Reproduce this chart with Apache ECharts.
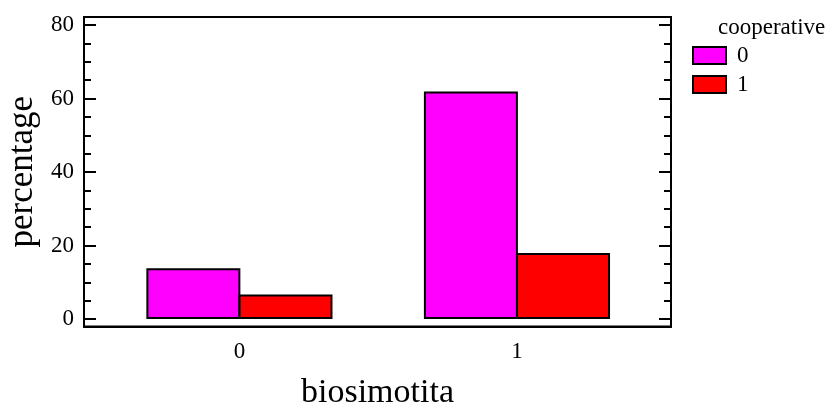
<!DOCTYPE html>
<html>
<head>
<meta charset="utf-8">
<script src="https://cdn.jsdelivr.net/npm/echarts@6/dist/echarts.min.js"></script>
<style>
  html, body { margin: 0; padding: 0; background: #fff; }
  #chart { width: 829px; height: 407px; }
</style>
</head>
<body>
<div id="chart"></div>
<script>
// biosimotita groups on the x axis
const categories = [0, 1];
const groupNames = ['0', '1'];
// percentage per cooperative level
const coop0 = [13.8, 61.9];
const coop1 = [6.7, 18.0];
const yMajor = [0, 20, 40, 60, 80];
const yMinor = [5, 10, 15, 25, 30, 35, 45, 50, 55, 65, 70, 75];

const FONT = "'Liberation Serif', 'Times New Roman', serif";
const chart = echarts.init(document.getElementById('chart'), null, { renderer: 'canvas' });

function yAx(pos, ticks, len, withLabel) {
    return {
        type: 'value',
        position: pos,
        min: -2.03,
        max: 82.2,
        name: withLabel ? 'percentage' : '',
        nameLocation: 'middle',
        nameGap: 37,
        nameTextStyle: { fontFamily: FONT, fontSize: 35, color: '#000' },
        axisLine: { show: true, onZero: false, lineStyle: { color: '#000', width: 2 } },
        axisTick: {
            show: true, inside: true, length: len,
            customValues: ticks,
            lineStyle: { color: '#000', width: 2 }
        },
        axisLabel: {
            show: withLabel,
            customValues: yMajor,
            margin: 10,
            fontFamily: FONT, fontSize: 23, color: '#000'
        },
        splitLine: { show: false }
    };
}

const option = {
    animation: false,
    backgroundColor: '#fff',
    title: {
        text: 'cooperative',
        left: 718,
        top: 16,
        padding: 0,
        textStyle: { fontFamily: FONT, fontSize: 23, fontWeight: 'normal', color: '#000' }
    },
    legend: {
        orient: 'vertical',
        left: 692,
        top: 44,
        padding: 0,
        itemWidth: 33,
        itemHeight: 17,
        itemGap: 6,
        icon: 'rect',
        textStyle: { fontFamily: FONT, fontSize: 23, color: '#000', padding: [0, 0, 0, 6] }
    },
    grid: {
        left: 84, right: 158, top: 17, bottom: 80.5,
        containLabel: false,
        outerBoundsMode: 'none',
        show: true, borderColor: '#000', borderWidth: 2
    },
    xAxis: {
        type: 'value',
        min: -0.56,
        max: 1.555,
        name: 'biosimotita',
        nameLocation: 'middle',
        nameGap: 50,
        nameTextStyle: { fontFamily: FONT, fontSize: 34, color: '#000' },
        axisLine: { show: true, onZero: false, lineStyle: { color: '#000', width: 2 } },
        axisTick: { show: false },
        axisLabel: {
            customValues: categories,
            formatter: function (v) { return groupNames[categories.indexOf(v)]; },
            margin: 14,
            fontFamily: FONT, fontSize: 23, color: '#000'
        },
        splitLine: { show: false }
    },
    yAxis: [
        yAx('left', yMajor, 12, true),
        yAx('left', yMinor, 7, false),
        yAx('right', yMajor, 12, false),
        yAx('right', yMinor, 7, false)
    ],
    series: [
        {
            name: '0',
            type: 'bar',
            barWidth: 94,
            barGap: '-2%',
            data: categories.map((c, i) => [c, coop0[i]]),
            itemStyle: { color: '#ff00ff', borderColor: '#000', borderWidth: 2 }
        },
        {
            name: '1',
            type: 'bar',
            barWidth: 94,
            barGap: '-2%',
            data: categories.map((c, i) => [c, coop1[i]]),
            itemStyle: { color: '#ff0000', borderColor: '#000', borderWidth: 2 }
        }
    ]
};
chart.setOption(option);
</script>
</body>
</html>
